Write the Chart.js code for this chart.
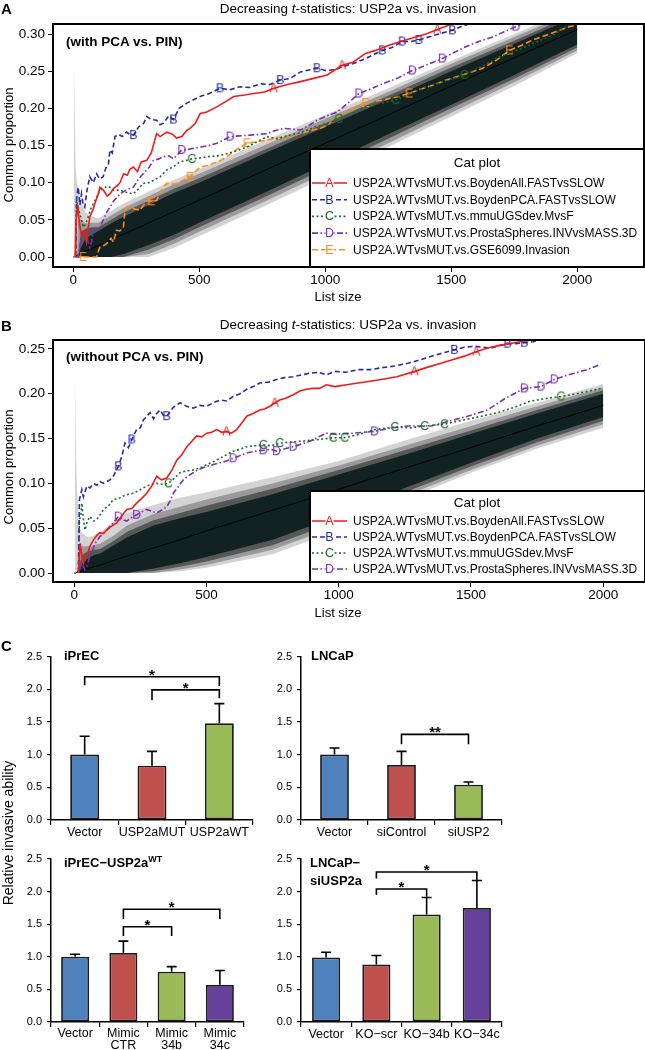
<!DOCTYPE html>
<html><head><meta charset="utf-8">
<script src="https://cdn.jsdelivr.net/npm/chart.js@4.4.1/dist/chart.umd.min.js"></script>
<style>
html,body{margin:0;padding:0;background:#fff;}
body{width:645px;height:1050px;position:relative;overflow:hidden;font-family:"Liberation Sans",Arial,sans-serif;color:#000;}
canvas{position:absolute;left:0;}
.t{position:absolute;white-space:nowrap;line-height:1;}
.c{transform:translate(-50%,-50%);}
.l{transform:translateY(-50%);}
.r{transform:translate(-50%,-50%) rotate(-90deg);}
.b{font-weight:bold;}
sup{font-size:9px;vertical-align:5px;line-height:0;}
</style></head><body>
<canvas id="chartA" width="645" height="310" style="top:0"></canvas>
<canvas id="chartB" width="645" height="300" style="top:315px"></canvas>
<canvas id="chartC1" width="645" height="210" style="top:640px"></canvas>
<canvas id="chartC2" width="645" height="210" style="top:640px"></canvas>
<canvas id="chartC3" width="645" height="205" style="top:845px"></canvas>
<canvas id="chartC4" width="645" height="205" style="top:845px"></canvas>

<div class="t b l" style="left:1px;top:8px;font-size:15px">A</div>
<div class="t c" style="left:348px;top:9px;font-size:13.5px">Decreasing <i>t</i>-statistics: USP2a vs. invasion</div>
<div class="t b l" style="left:66px;top:42px;font-size:13.5px">(with PCA vs. PIN)</div>
<div class="t r" style="left:8px;top:145px;font-size:13px">Common proportion</div>
<div class="t c" style="left:338px;top:296px;font-size:13px">List size</div>

<div class="t b l" style="left:1px;top:325px;font-size:15px">B</div>
<div class="t c" style="left:348px;top:325px;font-size:13.5px">Decreasing <i>t</i>-statistics: USP2a vs. invasion</div>
<div class="t b l" style="left:66px;top:357px;font-size:13.5px">(without PCA vs. PIN)</div>
<div class="t r" style="left:8px;top:467px;font-size:13px">Common proportion</div>
<div class="t c" style="left:338px;top:612px;font-size:13px">List size</div>

<div class="t b l" style="left:1px;top:645px;font-size:15px">C</div>
<div class="t b l" style="left:64px;top:655px;font-size:13px">iPrEC</div>
<div class="t b l" style="left:311px;top:655px;font-size:13px">LNCaP</div>
<div class="t b l" style="left:64px;top:862px;font-size:13px">iPrEC−USP2a<sup>WT</sup></div>
<div class="t b l" style="left:310px;top:862px;font-size:13px">LNCaP−</div>
<div class="t b l" style="left:310px;top:880px;font-size:13px">siUSP2a</div>
<div class="t r" style="left:8px;top:833px;font-size:14px">Relative invasive ability</div>

<script>
// ---------------- DATA: panel A ----------------
const listSizeTicksA = [0, 500, 1000, 1500, 2000];
const propTicksA = [0, 0.05, 0.10, 0.15, 0.20, 0.25, 0.30];
const seriesNamesA = ['USP2A.WTvsMUT.vs.BoydenAll.FASTvsSLOW','USP2A.WTvsMUT.vs.BoydenPCA.FASTvsSLOW','USP2A.WTvsMUT.vs.mmuUGSdev.MvsF','USP2A.WTvsMUT.vs.ProstaSpheres.INVvsMASS.3D','USP2A.WTvsMUT.vs.GSE6099.Invasion'];

const aBoydenAllSize = [8,12,18,25,33,45,53,60,66,80,86,100,106,120,135,146,160,175,186,200,215,225,239,255,270,292,310,331,345,371,395,410,431,450,464,485,504,530,570,600,637,680,716,760,796,850,902,950,1008,1067,1110,1160,1200,1253,1300,1359,1400,1445,1492,1530];
const aBoydenAllProp = [0,0.05,0.07,0.045,0.03,0.035,0.02,0.04,0.054,0.065,0.072,0.085,0.094,0.09,0.082,0.085,0.092,0.096,0.10,0.112,0.11,0.118,0.121,0.115,0.128,0.13,0.14,0.166,0.162,0.168,0.165,0.16,0.162,0.17,0.173,0.18,0.193,0.195,0.202,0.208,0.216,0.218,0.22,0.222,0.227,0.232,0.236,0.24,0.245,0.258,0.262,0.274,0.278,0.285,0.29,0.296,0.30,0.306,0.312,0.318];
const aBoydenAllMarks = [796,1067,1445];

const aBoydenPCASize = [10,14,20,27,33,40,46,55,66,80,93,105,119,130,140,146,155,166,180,195,212,225,239,260,280,292,310,331,345,358,380,398,420,451,480,504,540,583,620,663,700,743,780,822,860,902,940,968,1001,1040,1067,1110,1160,1227,1265,1306,1340,1372,1439,1505,1540,1572];
const aBoydenPCAProp = [0,0.08,0.094,0.07,0.085,0.07,0.067,0.09,0.108,0.10,0.112,0.105,0.108,0.12,0.125,0.144,0.14,0.162,0.165,0.162,0.168,0.165,0.164,0.175,0.18,0.189,0.185,0.184,0.178,0.18,0.19,0.185,0.2,0.207,0.212,0.216,0.22,0.227,0.225,0.229,0.228,0.233,0.232,0.238,0.24,0.249,0.252,0.254,0.251,0.252,0.256,0.26,0.267,0.278,0.282,0.29,0.29,0.292,0.299,0.305,0.31,0.314];
const aBoydenPCAMarks = [239,398,583,822,968,1227,1306,1372,1505];

const aUGSSize = [10,13,18,26,33,40,50,60,70,80,93,106,120,133,146,160,186,210,239,260,278,300,318,345,371,400,424,450,471,500,530,570,610,650,690,730,769,809,850,900,961,1010,1054,1100,1160,1220,1280,1340,1399,1460,1552,1620,1691,1760,1823,1900,1969];
const aUGSProp = [0,0.076,0.07,0.058,0.05,0.04,0.045,0.054,0.065,0.072,0.08,0.09,0.092,0.095,0.094,0.09,0.09,0.087,0.085,0.092,0.099,0.10,0.103,0.108,0.117,0.122,0.128,0.13,0.132,0.133,0.135,0.136,0.139,0.143,0.148,0.155,0.162,0.159,0.163,0.167,0.175,0.18,0.186,0.192,0.202,0.207,0.211,0.22,0.229,0.235,0.245,0.256,0.269,0.278,0.287,0.298,0.312];
const aUGSMarks = [471,1054,1280,1552];

const aSpheresSize = [10,20,30,40,53,60,66,73,80,93,106,120,133,146,160,186,210,239,260,278,300,318,340,358,380,398,415,431,460,504,540,570,600,623,660,703,740,769,800,835,870,902,940,968,1008,1047,1090,1134,1180,1227,1290,1346,1400,1465,1510,1558,1610,1664,1710,1757,1790];
const aSpheresProp = [0,0,0.02,0.035,0.031,0.02,0.013,0.02,0.036,0.038,0.04,0.05,0.06,0.067,0.075,0.085,0.09,0.094,0.105,0.112,0.12,0.13,0.132,0.135,0.136,0.132,0.138,0.144,0.145,0.148,0.15,0.153,0.158,0.162,0.163,0.164,0.165,0.166,0.17,0.173,0.172,0.171,0.178,0.184,0.19,0.195,0.207,0.22,0.226,0.233,0.241,0.251,0.258,0.267,0.275,0.283,0.29,0.296,0.303,0.31,0.316];
const aSpheresMarks = [431,623,1134,1346,1465,1757];

const aGSESize = [5,40,93,100,106,120,133,150,160,172,185,199,205,212,240,265,280,292,310,331,350,371,400,424,445,464,485,504,530,557,585,610,650,690,730,769,800,835,870,902,940,981,1010,1054,1100,1160,1227,1280,1333,1380,1426,1480,1545,1590,1625,1680,1731,1780,1823,1890,1969,2000];
const aGSEProp = [0,0,0,0.008,0.013,0.015,0.018,0.025,0.02,0.036,0.035,0.04,0.06,0.067,0.065,0.063,0.07,0.076,0.075,0.076,0.09,0.099,0.098,0.101,0.105,0.108,0.115,0.121,0.123,0.126,0.13,0.135,0.145,0.153,0.155,0.157,0.16,0.162,0.164,0.166,0.17,0.173,0.178,0.191,0.198,0.207,0.211,0.215,0.22,0.226,0.231,0.238,0.245,0.25,0.254,0.265,0.278,0.285,0.292,0.30,0.31,0.312];
const aGSEMarks = [40,310,464,690,1160,1333,1731];

// random-overlap reference band, panel A
const bandSizeA = [0,3,6,10,15,20,30,50,75,100,150,200,300,400,500,750,1000,1250,1500,1750,2000];
const bandMidA  = [0,0,0,0.0015,0.0023,0.003,0.0046,0.0077,0.0115,0.0153,0.023,0.0306,0.046,0.061,0.0765,0.115,0.153,0.191,0.23,0.268,0.306];
const bandLightHiA = [0,0.26,0.2,0.12,0.1,0.09,0.075,0.06,0.055,0.052,0.062,0.072,0.088,0.104,0.118,0.155,0.191,0.227,0.264,0.30,0.336];
const bandLightLoA = [0,0,0,0,0,0,0,0,0,0,0,0,0,0.012,0.028,0.067,0.107,0.148,0.189,0.23,0.274];
const bandGrayHiA  = [0,0,0,0,0,0.05,0.05,0.045,0.046,0.046,0.056,0.066,0.082,0.098,0.112,0.149,0.186,0.222,0.26,0.296,0.332];
const bandGrayLoA  = [0,0,0,0,0,0,0,0,0,0,0,0,0.004,0.018,0.034,0.073,0.113,0.153,0.194,0.235,0.278];
const bandMidHiA   = [0,0,0,0,0,0,0.033,0.038,0.04,0.04,0.05,0.06,0.076,0.092,0.106,0.143,0.18,0.217,0.255,0.291,0.328];
const bandMidLoA   = [0,0,0,0,0,0,0,0,0,0,0,0,0.01,0.024,0.04,0.079,0.119,0.159,0.2,0.24,0.282];
const bandDarkHiA  = [0,0,0,0,0,0,0.012,0.025,0.03,0.035,0.045,0.054,0.07,0.086,0.1,0.138,0.175,0.212,0.25,0.287,0.324];
const bandDarkLoA  = [0,0,0,0,0,0,0,0,0,0,0,0.004,0.016,0.03,0.046,0.085,0.125,0.165,0.205,0.245,0.286];

// ---------------- DATA: panel B ----------------
const listSizeTicksB = [0, 500, 1000, 1500, 2000];
const propTicksB = [0, 0.05, 0.10, 0.15, 0.20, 0.25];
const seriesNamesB = ['USP2A.WTvsMUT.vs.BoydenAll.FASTvsSLOW','USP2A.WTvsMUT.vs.BoydenPCA.FASTvsSLOW','USP2A.WTvsMUT.vs.mmuUGSdev.MvsF','USP2A.WTvsMUT.vs.ProstaSpheres.INVvsMASS.3D'];

const bBoydenAllSize = [16,23,29,35,48,60,73,86,98,110,123,140,161,180,199,218,236,255,274,293,312,330,350,370,388,407,426,445,463,482,501,520,539,558,576,595,614,633,652,677,702,720,740,759,777,800,828,853,878,903,928,953,985,1030,1073,1120,1161,1220,1287,1340,1387,1430,1475,1520,1563,1610,1664,1727,1790,1850];
const bBoydenAllProp = [0,0.033,0.02,0.011,0.019,0.03,0.037,0.042,0.045,0.044,0.048,0.052,0.056,0.064,0.071,0.072,0.078,0.083,0.089,0.097,0.108,0.104,0.106,0.115,0.126,0.132,0.141,0.147,0.153,0.152,0.156,0.157,0.16,0.157,0.158,0.156,0.16,0.167,0.175,0.178,0.182,0.183,0.186,0.19,0.193,0.195,0.199,0.203,0.205,0.206,0.206,0.21,0.208,0.21,0.212,0.214,0.216,0.219,0.225,0.23,0.234,0.238,0.242,0.247,0.251,0.254,0.257,0.26,0.262,0.265];
const bBoydenAllMarks = [576,759,1287,1520];

const bBoydenPCASize = [16,20,29,35,48,60,73,86,98,110,123,135,148,167,180,192,205,218,236,250,262,275,287,300,312,325,337,350,375,400,425,450,475,501,526,551,576,601,627,652,677,702,735,765,795,828,860,891,925,953,985,1030,1073,1120,1161,1212,1262,1310,1362,1400,1438,1475,1513,1545,1576,1610,1639,1670,1702,1735,1765,1800];
const bBoydenPCAProp = [0,0.082,0.093,0.085,0.097,0.095,0.1,0.098,0.102,0.1,0.102,0.104,0.108,0.119,0.13,0.145,0.14,0.149,0.16,0.162,0.171,0.175,0.179,0.172,0.178,0.182,0.176,0.175,0.185,0.19,0.186,0.184,0.187,0.186,0.19,0.193,0.192,0.197,0.2,0.205,0.208,0.212,0.213,0.216,0.218,0.219,0.221,0.223,0.224,0.221,0.225,0.224,0.227,0.227,0.229,0.231,0.234,0.238,0.243,0.246,0.249,0.252,0.253,0.252,0.251,0.254,0.256,0.256,0.257,0.258,0.26,0.263];
const bBoydenPCAMarks = [167,218,350,1438,1639,1702];

const bUGSSize = [16,20,25,29,35,41,50,60,73,86,98,111,130,148,167,186,205,224,250,274,293,312,335,356,380,400,425,450,475,501,526,551,576,601,627,652,685,715,745,777,815,853,890,928,979,1023,1080,1136,1212,1270,1325,1400,1475,1540,1601,1665,1727,1790,1840,1900,1991];
const bUGSProp = [0,0.06,0.063,0.078,0.06,0.048,0.058,0.063,0.058,0.06,0.065,0.071,0.075,0.082,0.083,0.086,0.088,0.089,0.093,0.097,0.099,0.1,0.099,0.1,0.106,0.112,0.114,0.115,0.117,0.121,0.124,0.128,0.132,0.136,0.138,0.141,0.142,0.143,0.142,0.145,0.146,0.147,0.148,0.149,0.151,0.151,0.155,0.16,0.163,0.162,0.164,0.166,0.171,0.175,0.179,0.185,0.192,0.195,0.197,0.2,0.206];
const bUGSMarks = [356,715,777,979,1023,1212,1325,1400,1840];

const bSpheresSize = [16,29,40,48,60,73,79,98,110,123,135,148,167,180,199,218,236,255,274,293,312,330,350,362,375,395,413,430,450,475,501,526,551,576,601,627,652,685,715,745,765,800,828,860,891,925,953,985,1050,1136,1200,1262,1349,1438,1500,1563,1630,1702,1765,1815,1890,1940,1991];
const bSpheresProp = [0,0.011,0.004,0.008,0.019,0.028,0.033,0.041,0.044,0.048,0.052,0.056,0.063,0.06,0.058,0.062,0.065,0.068,0.071,0.069,0.067,0.07,0.074,0.08,0.089,0.097,0.104,0.108,0.112,0.116,0.119,0.121,0.123,0.125,0.128,0.131,0.134,0.136,0.137,0.138,0.136,0.139,0.141,0.144,0.147,0.152,0.156,0.155,0.156,0.158,0.162,0.164,0.164,0.171,0.176,0.182,0.195,0.206,0.208,0.216,0.223,0.227,0.233];
const bSpheresMarks = [167,236,601,715,765,828,1136,1702,1765,1815];

const bandSizeB = [0,3,6,10,15,20,30,50,75,100,150,200,300,400,500,750,1000,1250,1500,1750,2000];
const bandMidB  = [0,0,0,0.001,0.0014,0.002,0.003,0.005,0.007,0.009,0.014,0.019,0.028,0.037,0.047,0.070,0.0935,0.117,0.14,0.164,0.187];
const bandLightHiB = [0,0.22,0.15,0.1,0.07,0.05,0.045,0.04,0.042,0.046,0.057,0.067,0.076,0.084,0.09,0.107,0.125,0.148,0.17,0.19,0.211];
const bandLightLoB = [0,0,0,0,0,0,0,0,0,0,0,0,0,0.002,0.006,0.021,0.048,0.082,0.112,0.139,0.162];
const bandGrayHiB  = [0,0,0,0,0,0.02,0.03,0.03,0.031,0.033,0.042,0.053,0.066,0.074,0.082,0.1,0.12,0.142,0.164,0.186,0.207];
const bandGrayLoB  = [0,0,0,0,0,0,0,0,0,0,0,0,0,0.004,0.009,0.026,0.053,0.086,0.115,0.142,0.166];
const bandMidHiB   = [0,0,0,0,0,0.01,0.02,0.024,0.026,0.027,0.036,0.046,0.059,0.067,0.075,0.094,0.115,0.137,0.159,0.182,0.204];
const bandMidLoB   = [0,0,0,0,0,0,0,0,0,0,0,0,0.002,0.007,0.013,0.031,0.058,0.09,0.119,0.146,0.17];
const bandDarkHiB  = [0,0,0,0,0,0,0.01,0.016,0.02,0.022,0.031,0.04,0.053,0.061,0.068,0.088,0.11,0.132,0.155,0.178,0.2];
const bandDarkLoB  = [0,0,0,0,0,0,0,0,0,0,0,0,0.005,0.011,0.018,0.037,0.064,0.095,0.123,0.15,0.174];

// ---------------- DATA: panel C ----------------
const invasionTicks = [0, 0.5, 1.0, 1.5, 2.0, 2.5];
const c1Labels = ['Vector','USP2aMUT','USP2aWT'];
const c1Values = [1.0, 0.83, 1.48];
const c1Errors = [0.28, 0.22, 0.30];
const c2Labels = ['Vector','siControl','siUSP2'];
const c2Values = [1.0, 0.84, 0.54];
const c2Errors = [0.10, 0.21, 0.04];
const c3Labels = ['Vector',['Mimic','CTR'],['Mimic','34b'],['Mimic','34c']];
const c3Values = [1.0, 1.06, 0.77, 0.57];
const c3Errors = [0.04, 0.18, 0.08, 0.22];
const c4Labels = ['Vector','KO−scr','KO−34b','KO−34c'];
const c4Values = [0.99, 0.88, 1.65, 1.75];
const c4Errors = [0.08, 0.14, 0.26, 0.42];
// significance brackets: [fromIndex, toIndex, barHeight, leftEnd, rightEnd, label]
const c1Sig = [[0,2,2.19,2.06,2.05,'*'],[1,2,1.99,1.83,1.86,'*']];
const c2Sig = [[1,2,1.31,1.16,1.16,'**']];
const c3Sig = [[1,3,1.73,1.58,1.58,'*'],[1,2,1.46,1.32,1.32,'*']];
const c4Sig = [[1,3,2.30,2.20,2.16,'*'],[1,2,2.04,1.95,1.92,'*']];

// ---------------- RENDERING ----------------
const FONT = "'Liberation Sans', Arial, sans-serif";
Chart.defaults.font.family = FONT;
Chart.defaults.color = '#000';

const COL = {red:'#f01a1a', blue:'#2a2aa6', green:'#1d6b2a', purple:'#7a30b0', orange:'#ff8c1a'};
const BAND_COLORS = ['#d3d3d3','#9a9a9a','#545858','#122121'];

function letterImg(ch, color){
  const c = document.createElement('canvas'); c.width = 13; c.height = 14;
  const g = c.getContext('2d');
  g.font = '12.5px ' + FONT; g.fillStyle = color; g.textAlign = 'center'; g.textBaseline = 'middle';
  g.fillText(ch, 6.5, 7.5);
  return c;
}

function makeCatPlot(id, c){
  const datasets = [];
  c.series.forEach(s => {
    datasets.push({
      data: s.sizes.map((v,i)=>({x:v, y:s.props[i]})),
      borderColor: s.color, borderWidth: 1.6, borderDash: s.dash,
      pointStyle: letterImg(s.letter, s.color),
      pointRadius: ctx => (ctx.type === 'data' && s.marks.includes(s.sizes[ctx.dataIndex])) ? 4 : 0,
      pointHoverRadius: 0, tension: 0, fill: false, order: 0
    });
  });
  datasets.push({data: c.bandSizes.map((v,i)=>({x:v, y:c.bandMid[i]})), borderColor:'#000', borderWidth:1, pointRadius:0, fill:false, order:1});
  c.bands.forEach((b,k) => {
    const ord = 10 - k;
    datasets.push({data: c.bandSizes.map((v,i)=>({x:v, y:b.lo[i]})), borderColor:'rgba(0,0,0,0)', borderWidth:0, pointRadius:0, fill:false, order:ord});
    datasets.push({data: c.bandSizes.map((v,i)=>({x:v, y:b.hi[i]})), borderColor:'rgba(0,0,0,0)', borderWidth:0, pointRadius:0, fill:'-1', backgroundColor:b.color, order:ord});
  });
  const L = c.legend;
  const legendPlugin = {
    id: 'catLegend' + id,
    afterDatasetsDraw(chart){
      const ctx = chart.ctx, a = chart.chartArea;
      ctx.save();
      ctx.fillStyle = '#fff';
      ctx.fillRect(L.x1, L.y1, a.right - L.x1, a.bottom - L.y1);
      ctx.lineWidth = 2; ctx.strokeStyle = '#000';
      ctx.strokeRect(L.x1, L.y1, a.right - L.x1, a.bottom - L.y1);
      ctx.fillStyle = '#000'; ctx.font = '13.5px ' + FONT; ctx.textAlign = 'center'; ctx.textBaseline = 'middle';
      ctx.fillText('Cat plot', L.titleX, L.titleY);
      c.series.forEach((s,i) => {
        const y = L.row0 + i * L.step;
        ctx.strokeStyle = s.color; ctx.lineWidth = 1.6; ctx.setLineDash(s.dash);
        ctx.beginPath(); ctx.moveTo(L.lx1, y); ctx.lineTo(L.lx2, y); ctx.stroke();
        ctx.setLineDash([]);
        const mx = (L.lx1 + L.lx2) / 2;
        ctx.fillStyle = '#fff'; ctx.fillRect(mx - 4, y - 5, 8, 10);
        ctx.fillStyle = s.color; ctx.font = '12.5px ' + FONT; ctx.textAlign = 'center';
        ctx.fillText(s.letter, mx, y + 0.5);
        ctx.fillStyle = '#000'; ctx.textAlign = 'left'; ctx.font = '12px ' + FONT;
        ctx.fillText(s.name, L.tx, y + 0.5);
      });
      ctx.lineWidth = 2; ctx.strokeStyle = '#000';
      ctx.strokeRect(a.left, a.top, a.right - a.left, a.bottom - a.top);
      ctx.restore();
    }
  };
  new Chart(document.getElementById(id), {
    type: 'line',
    data: {datasets},
    options: {
      responsive:false, animation:false, devicePixelRatio:1, events:[],
      layout: {padding: {top:c.padTop, right:c.padRight, left:0, bottom:0}},
      plugins: {legend:{display:false}, tooltip:{enabled:false}, title:{display:false}},
      scales: {
        x: {type:'linear', min:c.xMin, max:c.xMax,
            afterBuildTicks: s => { s.ticks = c.xTicks.map(v=>({value:v})); },
            ticks: {font:{size:13.5}, padding:0, color:'#000', maxRotation:0, callback: v => String(v)},
            grid: {drawOnChartArea:false, drawTicks:true, tickLength:5, color:'#000'},
            border: {display:false},
            afterFit: s => { s.height = c.xHeight; }},
        y: {type:'linear', min:c.yMin, max:c.yMax,
            afterBuildTicks: s => { s.ticks = c.yTicks.map(v=>({value:v})); },
            ticks: {font:{size:13.5}, padding:3, color:'#000', callback: v => Number(v).toFixed(2)},
            grid: {drawOnChartArea:false, drawTicks:true, tickLength:5, color:'#000'},
            border: {display:false},
            afterFit: s => { s.width = 53; }}
      }
    },
    plugins: [legendPlugin]
  });
}

const dashes = {solid:[], dash:[5,3], dot:[2,2.5], dashdot:[6,2.5,1.5,2.5], longdash:[6,3]};

makeCatPlot('chartA', {
  series: [
    {name:seriesNamesA[0], sizes:aBoydenAllSize, props:aBoydenAllProp, marks:aBoydenAllMarks, color:COL.red, dash:dashes.solid, letter:'A'},
    {name:seriesNamesA[1], sizes:aBoydenPCASize, props:aBoydenPCAProp, marks:aBoydenPCAMarks, color:COL.blue, dash:dashes.dash, letter:'B'},
    {name:seriesNamesA[2], sizes:aUGSSize, props:aUGSProp, marks:aUGSMarks, color:COL.green, dash:dashes.dot, letter:'C'},
    {name:seriesNamesA[3], sizes:aSpheresSize, props:aSpheresProp, marks:aSpheresMarks, color:COL.purple, dash:dashes.dashdot, letter:'D'},
    {name:seriesNamesA[4], sizes:aGSESize, props:aGSEProp, marks:aGSEMarks, color:COL.orange, dash:dashes.longdash, letter:'E'}
  ],
  bandSizes: bandSizeA, bandMid: bandMidA,
  bands: [
    {lo:bandLightLoA, hi:bandLightHiA, color:BAND_COLORS[0]},
    {lo:bandGrayLoA, hi:bandGrayHiA, color:BAND_COLORS[1]},
    {lo:bandMidLoA, hi:bandMidHiA, color:BAND_COLORS[2]},
    {lo:bandDarkLoA, hi:bandDarkHiA, color:BAND_COLORS[3]}
  ],
  xMin:-80, xMax:2265, yMin:-0.01345, yMax:0.3135,
  xTicks:listSizeTicksA, yTicks:propTicksA,
  padTop:24, padRight:1, xHeight:43,
  legend:{x1:310, y1:149, titleX:477, titleY:163, row0:183, step:16.7, lx1:312, lx2:347, tx:353}
});

makeCatPlot('chartB', {
  series: [
    {name:seriesNamesB[0], sizes:bBoydenAllSize, props:bBoydenAllProp, marks:bBoydenAllMarks, color:COL.red, dash:dashes.solid, letter:'A'},
    {name:seriesNamesB[1], sizes:bBoydenPCASize, props:bBoydenPCAProp, marks:bBoydenPCAMarks, color:COL.blue, dash:dashes.dash, letter:'B'},
    {name:seriesNamesB[2], sizes:bUGSSize, props:bUGSProp, marks:bUGSMarks, color:COL.green, dash:dashes.dot, letter:'C'},
    {name:seriesNamesB[3], sizes:bSpheresSize, props:bSpheresProp, marks:bSpheresMarks, color:COL.purple, dash:dashes.dashdot, letter:'D'}
  ],
  bandSizes: bandSizeB, bandMid: bandMidB,
  bands: [
    {lo:bandLightLoB, hi:bandLightHiB, color:BAND_COLORS[0]},
    {lo:bandGrayLoB, hi:bandGrayHiB, color:BAND_COLORS[1]},
    {lo:bandMidLoB, hi:bandMidHiB, color:BAND_COLORS[2]},
    {lo:bandDarkLoB, hi:bandDarkHiB, color:BAND_COLORS[3]}
  ],
  xMin:-80, xMax:2158, yMin:-0.01, yMax:0.26,
  xTicks:listSizeTicksB, yTicks:propTicksB,
  padTop:25, padRight:0, xHeight:33,
  legend:{x1:310, y1:176, titleX:477, titleY:188, row0:206, step:16, lx1:312, lx2:347, tx:353}
});

const BAR = {blue:'#4f81bd', red:'#c0504d', green:'#9bbb59', purple:'#674199'};

function makeBar(id, c){
  const extras = {
    id: 'barExtras' + id,
    afterDatasetsDraw(chart){
      const ctx = chart.ctx, meta = chart.getDatasetMeta(0), y = chart.scales.y;
      ctx.save(); ctx.strokeStyle = '#000'; ctx.lineWidth = 1.6;
      c.errors.forEach((e,i) => {
        const bar = meta.data[i]; const top = y.getPixelForValue(c.values[i] + e);
        ctx.beginPath(); ctx.moveTo(bar.x, bar.y); ctx.lineTo(bar.x, top);
        ctx.moveTo(bar.x - 5, top); ctx.lineTo(bar.x + 5, top); ctx.stroke();
      });
      ctx.fillStyle = '#000'; ctx.font = 'bold 15px ' + FONT; ctx.textAlign = 'center'; ctx.textBaseline = 'alphabetic';
      c.sig.forEach(b => {
        const x1 = meta.data[b[0]].x, x2 = meta.data[b[1]].x;
        const yh = y.getPixelForValue(b[2]);
        ctx.beginPath();
        ctx.moveTo(x1, y.getPixelForValue(b[3])); ctx.lineTo(x1, yh);
        ctx.lineTo(x2, yh); ctx.lineTo(x2, y.getPixelForValue(b[4]));
        ctx.stroke();
        ctx.fillText(b[5], (x1 + x2) / 2, yh + 3);
      });
      ctx.restore();
    }
  };
  new Chart(document.getElementById(id), {
    type: 'bar',
    data: {labels: c.labels, datasets: [{data: c.values, backgroundColor: c.colors, borderColor:'#1a1a1a', borderWidth:1.8, borderSkipped:false, barPercentage:c.barPct, categoryPercentage:1}]},
    options: {
      responsive:false, animation:false, devicePixelRatio:1, events:[],
      layout: {padding: {top:c.padTop, right:c.padRight, left:0, bottom:0}},
      plugins: {legend:{display:false}, tooltip:{enabled:false}},
      scales: {
        x: {grid:{offset:true, drawOnChartArea:false, drawTicks:true, tickLength:5, color:'#000', lineWidth:1.2},
            border:{display:true, color:'#000', width:1.5},
            ticks:{font:{size:12.5, lineHeight:c.lineH}, padding:0, color:'#000', maxRotation:0, autoSkip:false},
            afterFit: s => { s.height = c.xHeight; }},
        y: {min:0, max:2.5,
            afterBuildTicks: s => { s.ticks = invasionTicks.map(v=>({value:v})); },
            ticks:{font:{size:11}, padding:5, color:'#000', callback: v => Number(v).toFixed(1)},
            grid:{drawOnChartArea:false, drawTicks:true, tickLength:4, color:'#000', lineWidth:1.2},
            border:{display:true, color:'#000', width:1.5},
            afterFit: s => { s.width = c.yWidth; }}
      }
    },
    plugins: [extras]
  });
}

makeBar('chartC1', {labels:c1Labels, values:c1Values, errors:c1Errors, sig:c1Sig, colors:[BAR.blue,BAR.red,BAR.green], barPct:0.43, padTop:16.5, padRight:392, xHeight:30, yWidth:51, lineH:1.2});
makeBar('chartC2', {labels:c2Labels, values:c2Values, errors:c2Errors, sig:c2Sig, colors:[BAR.blue,BAR.red,BAR.green], barPct:0.43, padTop:16.5, padRight:143, xHeight:30, yWidth:301, lineH:1.2});
makeBar('chartC3', {labels:c3Labels, values:c3Values, errors:c3Errors, sig:c3Sig, colors:[BAR.blue,BAR.red,BAR.green,BAR.purple], barPct:0.58, padTop:14, padRight:401, xHeight:28, yWidth:51, lineH:1.0});
makeBar('chartC4', {labels:c4Labels, values:c4Values, errors:c4Errors, sig:c4Sig, colors:[BAR.blue,BAR.red,BAR.green,BAR.purple], barPct:0.56, padTop:14, padRight:143, xHeight:28, yWidth:301, lineH:1.2});
</script>
</body></html>
